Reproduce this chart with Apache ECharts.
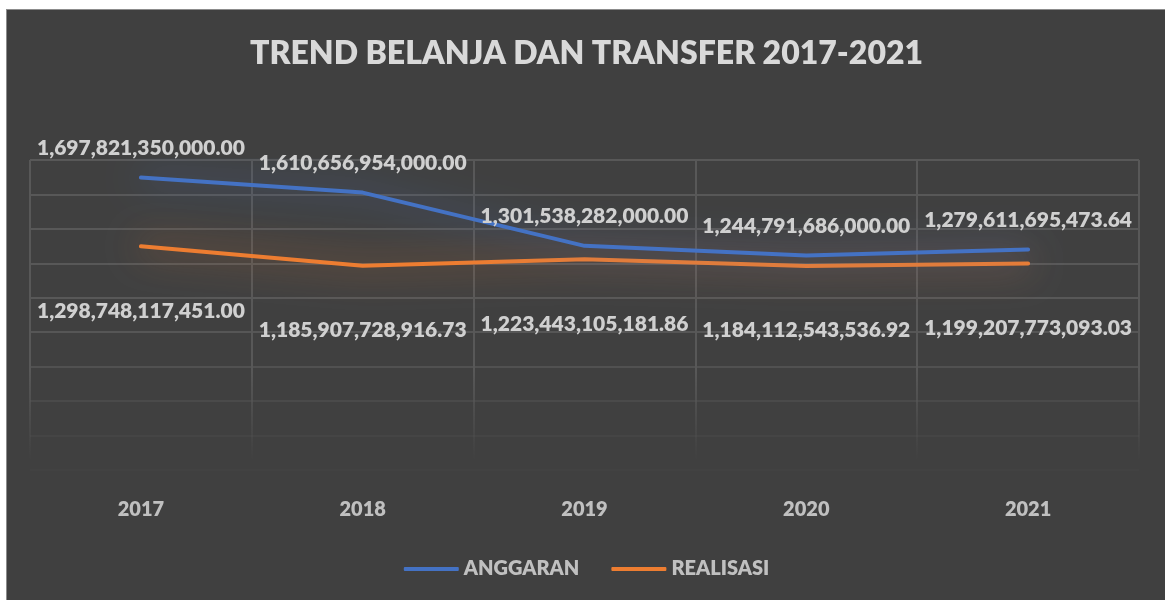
<!DOCTYPE html>
<html>
<head>
<meta charset="utf-8">
<script src="https://cdn.jsdelivr.net/npm/echarts@6/dist/echarts.min.js"></script>
<style>
  html, body { margin: 0; padding: 0; background: #ffffff; }
  #chart {
    position: absolute; left: 6px; top: 9px;
    width: 1159px; height: 591px;
    border-top: 1px solid #8c8c8c; border-left: 1px solid #8c8c8c;
  }
</style>
</head>
<body>
<div id="chart"></div>
<script>
var years = ['2017', '2018', '2019', '2020', '2021'];
var anggaran = [1697821350000.00, 1610656954000.00, 1301538282000.00, 1244791686000.00, 1279611695473.64];
var realisasi = [1298748117451.00, 1185907728916.73, 1223443105181.86, 1184112543536.92, 1199207773093.03];

var myChart = echarts.init(document.getElementById('chart'));

function fmt(v) {
    var s = v.toFixed(2).split('.');
    return s[0].replace(/\B(?=(\d{3})+(?!\d))/g, ',') + '.' + s[1];
}

var labelFont = { fontFamily: 'Lato', fontWeight: 800, fontSize: 21, color: '#d0d0d0' };

option = {
    backgroundColor: '#404040',
    title: {
        text: 'TREND BELANJA DAN TRANSFER 2017-2021',
        left: 'center',
        top: 23,
        textStyle: { fontFamily: 'Lato', fontWeight: 800, fontSize: 32, color: '#d9d9d9' }
    },
    legend: {
        bottom: 17,
        left: 'center',
        icon: 'roundRect',
        itemWidth: 55,
        itemHeight: 4,
        itemGap: 32,
        data: ['ANGGARAN', 'REALISASI'],
        textStyle: { fontFamily: 'Lato', fontWeight: 800, fontSize: 20, color: '#c0c0c0' }
    },
    grid: { left: 23, right: 27, top: 150, bottom: 131 },
    xAxis: {
        type: 'category',
        data: years,
        boundaryGap: true,
        axisLine: { show: false },
        axisTick: { show: false },
        axisLabel: { margin: 30, fontFamily: 'Lato', fontWeight: 800, fontSize: 20, color: '#c0c0c0' },
        splitLine: {
            show: true,
            lineStyle: {
                width: 2,
                color: {
                    type: 'linear', global: true, x: 0, y: 360, x2: 0, y2: 450,
                    colorStops: [{ offset: 0, color: '#585858' }, { offset: 1, color: 'rgba(88,88,88,0)' }]
                }
            }
        }
    },
    yAxis: {
        type: 'value',
        min: 0,
        max: 1800000000000,
        interval: 200000000000,
        axisLabel: { show: false },
        axisLine: { show: false },
        axisTick: { show: false },
        splitLine: {
            lineStyle: {
                width: 2,
                color: ['#424242', '#454545', '#4a4a4a', '#515151', '#565656', '#585858', '#585858', '#585858', '#585858', '#585858']
            }
        }
    },
    series: [
        {
            name: 'ANGGARAN',
            type: 'line',
            data: anggaran,
            symbol: 'circle',
            symbolSize: 0.1,
            itemStyle: { color: '#4472c4' },
            lineStyle: {
                width: 4, cap: 'round', join: 'round', color: '#4472c4',
                shadowBlur: 36, shadowColor: 'rgba(68,114,196,1)'
            },
            label: Object.assign({
                show: true, position: 'top', distance: 19,
                formatter: function (p) { return fmt(p.value); }
            }, labelFont),
            z: 3
        },
        {
            name: 'REALISASI',
            type: 'line',
            data: realisasi,
            symbol: 'circle',
            symbolSize: 0.1,
            itemStyle: { color: '#ed7d31' },
            lineStyle: {
                width: 4, cap: 'round', join: 'round', color: '#ed7d31',
                shadowBlur: 36, shadowColor: 'rgba(237,125,49,0.9)'
            },
            label: Object.assign({
                show: true, position: 'bottom', distance: 54,
                formatter: function (p) { return fmt(p.value); }
            }, labelFont),
            z: 2
        }
    ]
};
myChart.setOption(option);
</script>
</body>
</html>
